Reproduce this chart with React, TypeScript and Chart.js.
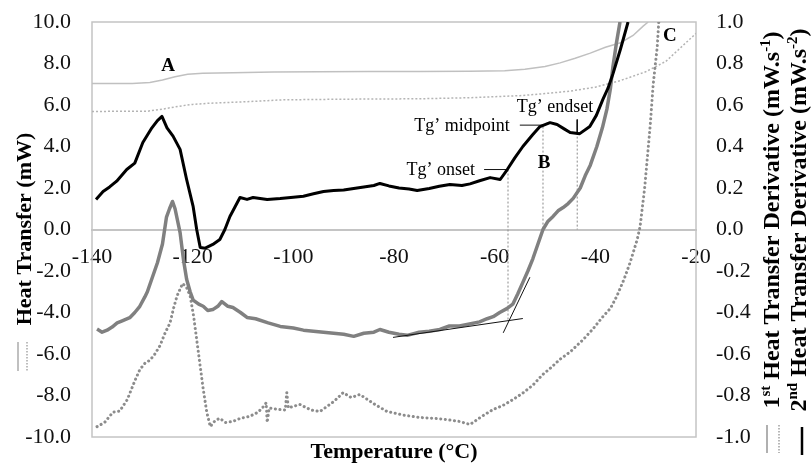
import React, { useEffect, useRef } from 'react';
import { Chart, registerables } from 'chart.js';

Chart.register(...registerables);

const FONT = "'Liberation Serif', 'Times New Roman', serif";

// ---- axis ticks ----
const xTicks = [-140, -120, -100, -80, -60, -40, -20];
const leftTicks = [-10, -8, -6, -4, -2, 0, 2, 4, 6, 8, 10];
const rightTicks = [-1, -0.8, -0.6, -0.4, -0.2, 0, 0.2, 0.4, 0.6, 0.8, 1];

// ---- Heat transfer (mW), left axis ----
const htSolidT = [-140, -132, -128.5, -126, -123.5, -121, -118, -112, -104, -95, -85, -75, -65, -58, -54, -50, -47, -44, -41, -38, -35, -32.5, -30.5, -29.5];
const htSolidV = [7.04, 7.04, 7.08, 7.2, 7.36, 7.48, 7.53, 7.56, 7.59, 7.6, 7.61, 7.62, 7.63, 7.65, 7.72, 7.86, 8.03, 8.25, 8.5, 8.78, 9.0, 9.35, 9.8, 10.0];

const htDotT = [-140, -129, -126, -123, -120, -117, -110, -102, -90, -75, -65, -55, -50, -45, -40, -35, -30, -26, -22, -20];
const htDotV = [5.69, 5.7, 5.8, 5.93, 6.03, 6.08, 6.15, 6.25, 6.28, 6.3, 6.35, 6.45, 6.55, 6.67, 6.86, 7.18, 7.6, 8.1, 9.0, 9.45];

// ---- 2nd heat transfer derivative (mW.s-2), right axis ----
const d2T = [-139.2, -137.8, -136.5, -135.1, -133.1, -131.5, -129.9, -128.1, -127, -126.1, -125.1, -123.9, -122.5, -121.2, -119.9, -119.2, -118.5, -117.5, -116, -114.6, -113.6, -112.6, -110.6, -109.2, -108, -105.2, -102.6, -100, -98, -96, -94, -92, -90, -88, -86, -84, -82.8, -81, -79, -77, -75.4, -73, -71, -68.9, -66.5, -64.9, -63, -60.9, -58.9, -57.5, -56, -54.4, -52.5, -51, -49, -47.6, -46.2, -45, -43.1, -41.1, -39.8, -38.5, -37.5, -36.5, -35, -33.5];
const d2V = [0.145, 0.183, 0.205, 0.233, 0.289, 0.32, 0.419, 0.49, 0.525, 0.545, 0.49, 0.45, 0.386, 0.241, 0.11, 0, -0.087, -0.09, -0.072, -0.048, 0, 0.063, 0.154, 0.145, 0.154, 0.145, 0.149, 0.155, 0.16, 0.172, 0.183, 0.188, 0.19, 0.198, 0.205, 0.212, 0.222, 0.21, 0.2, 0.195, 0.188, 0.198, 0.208, 0.217, 0.212, 0.22, 0.235, 0.25, 0.241, 0.289, 0.345, 0.4, 0.455, 0.496, 0.515, 0.506, 0.485, 0.467, 0.462, 0.496, 0.55, 0.627, 0.68, 0.75, 0.87, 1.0];

// ---- 1st heat transfer derivative (mW.s-1), right axis: solid ----
const d1SolidT = [-139, -138, -137, -136, -135, -134, -132.5, -131.5, -130.5, -129.5, -129, -128, -127, -126, -125.2, -124.6, -124, -123.5, -122.5, -121.8, -121.2, -120.5, -119.9, -118.8, -117.9, -117, -116, -115, -114.2, -113, -112, -110.5, -109.2, -107.5, -105, -102.6, -100, -98, -96, -94, -92, -90, -88, -86, -84, -82.8, -81, -79, -77.4, -75, -73, -70.9, -69, -67, -65.5, -63, -61.5, -60.3, -59, -57.5, -56.4, -55.4, -54.4, -53.4, -52.4, -51.4, -50.4, -49.4, -48.4, -47.4, -46.4, -45.4, -44.4, -43, -42, -41, -39.7, -38.6, -37.7, -37, -36.5, -35.8, -35.1];
const d1SolidV = [-0.48, -0.495, -0.485, -0.47, -0.45, -0.44, -0.425, -0.4, -0.37, -0.325, -0.3, -0.23, -0.16, -0.07, 0.06, 0.1, 0.135, 0.1, -0.015, -0.15, -0.24, -0.3, -0.34, -0.36, -0.37, -0.39, -0.386, -0.37, -0.347, -0.37, -0.376, -0.4, -0.424, -0.43, -0.45, -0.467, -0.475, -0.485, -0.49, -0.495, -0.5, -0.505, -0.515, -0.5, -0.495, -0.482, -0.495, -0.505, -0.51, -0.495, -0.49, -0.482, -0.465, -0.465, -0.458, -0.445, -0.43, -0.42, -0.4, -0.38, -0.36, -0.31, -0.255, -0.2, -0.14, -0.07, 0, 0.04, 0.063, 0.09, 0.106, 0.125, 0.15, 0.2, 0.26, 0.31, 0.4, 0.49, 0.58, 0.68, 0.786, 0.9, 1.0];

// ---- 1st heat transfer derivative (mW.s-1), right axis: dotted ----
const d1DotT = [-139, -137.5, -136.5, -135.8, -134.5, -133, -132, -131.5, -130.5, -129.5, -128.5, -127.5, -126.5, -125.5, -124.5, -123.8, -123.1, -122, -121.2, -120.5, -119.8, -119.2, -118.5, -117.9, -117.2, -116.5, -115.5, -114.6, -113.5, -112, -110.5, -108.6, -107, -105.8, -105.4, -105.2, -104.8, -103, -101.6, -101.3, -101, -98.7, -96.5, -94.7, -92, -90.1, -88.5, -86.8, -84, -81.4, -78, -74.8, -72, -69.5, -67, -64.9, -62.5, -60.3, -58.5, -56.4, -54.5, -52.4, -50.5, -49, -47, -45, -42.4, -40.5, -38.5, -37, -35.7, -34.3, -33.1, -31.7, -31.1, -30.2, -29.1, -28.5, -27.7, -27.4];
const d1DotV = [-0.95, -0.93, -0.9, -0.88, -0.875, -0.82, -0.76, -0.73, -0.675, -0.645, -0.63, -0.6, -0.56, -0.5, -0.45, -0.38, -0.32, -0.26, -0.28, -0.32, -0.42, -0.53, -0.66, -0.77, -0.88, -0.95, -0.92, -0.91, -0.93, -0.925, -0.91, -0.9, -0.88, -0.85, -0.835, -0.93, -0.86, -0.867, -0.87, -0.786, -0.86, -0.843, -0.87, -0.877, -0.83, -0.786, -0.81, -0.795, -0.84, -0.877, -0.895, -0.906, -0.91, -0.916, -0.925, -0.94, -0.9, -0.867, -0.85, -0.82, -0.79, -0.75, -0.7, -0.67, -0.625, -0.59, -0.53, -0.48, -0.42, -0.38, -0.32, -0.24, -0.16, -0.05, 0.015, 0.2, 0.5, 0.7, 0.88, 1.0];

// ---- construction lines (left axis units) ----
const tangentBaseT = [-80.2, -54.4];
const tangentBaseV = [-5.2, -4.29];
const tangentSteepT = [-58.3, -53.0];
const tangentSteepV = [-4.98, -2.3];
const onsetLeaderT = [-62.1, -57.35];
const onsetLeaderV = [2.89, 2.89];
const midLeaderT = [-55, -50.4];
const midLeaderV = [5.03, 5.03];
const endLeaderT = [-43.6, -43.6];
const endLeaderV = [5.3, 4.67];
const onsetGuideT = [-57.35, -57.35];
const onsetGuideV = [2.89, -4.34];
const midGuideT = [-50.4, -50.4];
const midGuideV = [4.96, 0];
const endGuideT = [-43.6, -43.6];
const endGuideV = [4.67, 0];

// ---- text annotations (left axis units) ----
const letterText = ['A', 'B', 'C'];
const letterT = [-124.9, -50.2, -25.2];
const letterV = [7.86, 3.18, 9.3];
const tgText = ['Tg\u2019 onset', 'Tg\u2019 midpoint', 'Tg\u2019 endset'];
const tgT = [-63.9, -57.0, -55.6];
const tgV = [2.84, 4.96, 5.88];
const tgAlign = ['right', 'right', 'left'];

const zip = (t: number[], v: number[]) => t.map((x, i) => ({ x, y: v[i] }));
const fmt1 = (v: number) => (Math.abs(v) < 1e-9 ? '0.0' : Number(v).toFixed(1));

type Part = [string, boolean];

function drawRotated(ctx: CanvasRenderingContext2D, bx: number, cy: number, parts: Part[], size: number) {
  ctx.save();
  ctx.translate(bx, cy);
  ctx.rotate(-Math.PI / 2);
  const main = `bold ${size}px ${FONT}`;
  const sup = `bold ${Math.round(size * 0.62)}px ${FONT}`;
  let total = 0;
  const widths = parts.map(([t, s]) => {
    ctx.font = s ? sup : main;
    const w = ctx.measureText(t).width;
    total += w;
    return w;
  });
  let x = -total / 2;
  ctx.textBaseline = 'alphabetic';
  ctx.textAlign = 'left';
  ctx.fillStyle = '#000';
  parts.forEach(([t, s], i) => {
    ctx.font = s ? sup : main;
    ctx.fillText(t, x, s ? -size * 0.38 : 0);
    x += widths[i];
  });
  ctx.restore();
}

function vline(ctx: CanvasRenderingContext2D, x: number, y0: number, y1: number, color: string, w: number, dash: number[]) {
  ctx.save();
  ctx.strokeStyle = color;
  ctx.lineWidth = w;
  ctx.setLineDash(dash);
  ctx.beginPath();
  ctx.moveTo(x, y0);
  ctx.lineTo(x, y1);
  ctx.stroke();
  ctx.restore();
}

const decoPlugin = {
  id: 'deco',
  beforeDatasetsDraw(chart: any) {
    const { ctx, chartArea } = chart;
    ctx.save();
    ctx.strokeStyle = '#c4c4c4';
    ctx.lineWidth = 1.5;
    ctx.strokeRect(chartArea.left, chartArea.top, chartArea.right - chartArea.left, chartArea.bottom - chartArea.top);
    ctx.restore();
  },
  afterDraw(chart: any) {
    const { ctx, chartArea } = chart;
    const xs = chart.scales.x;
    const ys = chart.scales.y;
    ctx.save();
    ctx.fillStyle = '#000';
    ctx.textAlign = 'center';
    ctx.textBaseline = 'middle';
    ctx.font = `bold 19px ${FONT}`;
    letterText.forEach((t, i) => {
      ctx.fillText(t, xs.getPixelForValue(letterT[i]), ys.getPixelForValue(letterV[i]));
    });
    ctx.font = `18px ${FONT}`;
    tgText.forEach((t, i) => {
      ctx.textAlign = tgAlign[i] as CanvasTextAlign;
      ctx.fillText(t, xs.getPixelForValue(tgT[i]), ys.getPixelForValue(tgV[i]));
    });
    ctx.textAlign = 'center';
    ctx.font = `bold 22px ${FONT}`;
    ctx.fillText('Temperature (\u00B0C)', (chartArea.left + chartArea.right) / 2, 452);
    ctx.restore();

    drawRotated(ctx, 31, 229, [['Heat Transfer (mW)', false]], 22);
    vline(ctx, 18, 342, 371, '#c0c0c0', 2, []);
    vline(ctx, 27, 342, 371, '#a8a8a8', 1.5, [1.5, 1.5]);

    drawRotated(ctx, 779, 220, [['1', false], ['st', true], [' Heat Transfer Derivative (mW.s', false], ['-1', true], [')', false]], 24);
    drawRotated(ctx, 806, 220, [['2', false], ['nd', true], [' Heat Transfer Derivative (mW.s', false], ['-2', true], [')', false]], 24);
    vline(ctx, 767, 425, 453, '#b0b0b0', 2, []);
    vline(ctx, 779, 425, 453, '#a0a0a0', 1.5, [1.5, 1.5]);
    vline(ctx, 802, 427, 455, '#000', 2.5, []);
  },
};

export default function App() {
  const ref = useRef<HTMLCanvasElement | null>(null);
  useEffect(() => {
    if (!ref.current) return;
    const thin = (t: number[], v: number[], color: string, w: number, dash: number[] = []) => ({
      data: zip(t, v),
      yAxisID: 'y',
      borderColor: color,
      borderWidth: w,
      borderDash: dash,
      pointRadius: 0,
      fill: false,
    });
    const chart = new Chart(ref.current, {
      type: 'line',
      data: {
        datasets: [
          {
            label: '2nd Heat Transfer Derivative',
            data: zip(d2T, d2V),
            yAxisID: 'y2',
            borderColor: '#000000',
            borderWidth: 3,
            pointRadius: 0,
            borderJoinStyle: 'round',
          },
          thin(tangentBaseT, tangentBaseV, '#111', 1),
          thin(tangentSteepT, tangentSteepV, '#111', 1),
          thin(onsetLeaderT, onsetLeaderV, '#111', 1),
          thin(midLeaderT, midLeaderV, '#111', 1),
          thin(endLeaderT, endLeaderV, '#111', 1),
          {
            label: '1st Heat Transfer Derivative',
            data: zip(d1SolidT, d1SolidV),
            yAxisID: 'y2',
            borderColor: '#808080',
            borderWidth: 3.5,
            pointRadius: 0,
            borderJoinStyle: 'round',
          },
          {
            label: '1st Heat Transfer Derivative (dotted)',
            data: zip(d1DotT, d1DotV),
            yAxisID: 'y2',
            borderColor: '#8c8c8c',
            borderWidth: 3,
            borderDash: [0.1, 4.5],
            borderCapStyle: 'round',
            pointRadius: 0,
          },
          thin(onsetGuideT, onsetGuideV, '#8a8a8a', 1, [2, 2]),
          thin(midGuideT, midGuideV, '#8a8a8a', 1, [2, 2]),
          thin(endGuideT, endGuideV, '#8a8a8a', 1, [2, 2]),
          {
            label: 'Heat Transfer',
            data: zip(htSolidT, htSolidV),
            yAxisID: 'y',
            borderColor: '#c0c0c0',
            borderWidth: 1.5,
            pointRadius: 0,
          },
          {
            label: 'Heat Transfer (dotted)',
            data: zip(htDotT, htDotV),
            yAxisID: 'y',
            borderColor: '#b4b4b4',
            borderWidth: 1.5,
            borderDash: [2, 2],
            pointRadius: 0,
          },
        ] as any,
      },
      options: {
        responsive: false,
        animation: false,
        layout: { padding: { top: 22, bottom: 29, left: 0, right: 0 } },
        plugins: { legend: { display: false }, tooltip: { enabled: false } },
        elements: { line: { tension: 0 }, point: { radius: 0 } },
        scales: {
          x: {
            type: 'linear',
            min: -140,
            max: -20,
            position: { y: 0 } as any,
            grid: { display: false, drawTicks: false },
            border: { display: true, color: '#c4c4c4', width: 2 },
            afterBuildTicks: (s: any) => { s.ticks = xTicks.map((value) => ({ value })); },
            afterFit: (s: any) => { s.paddingLeft = 0; s.paddingRight = 0; },
            ticks: {
              font: { family: FONT, size: 22 },
              color: '#111',
              padding: 15,
              maxRotation: 0,
              autoSkip: false,
              callback: (v: any) => String(v),
            },
          },
          y: {
            type: 'linear',
            position: 'left',
            min: -10,
            max: 10,
            grid: { display: false, drawTicks: false },
            border: { display: false },
            afterBuildTicks: (s: any) => { s.ticks = leftTicks.map((value) => ({ value })); },
            afterFit: (s: any) => { s.width = 92; s.paddingTop = 0; s.paddingBottom = 0; },
            ticks: {
              font: { family: FONT, size: 22 },
              color: '#111',
              padding: 21,
              autoSkip: false,
              callback: (v: any) => fmt1(Number(v)),
            },
          },
          y2: {
            type: 'linear',
            position: 'right',
            min: -1,
            max: 1,
            grid: { display: false, drawTicks: false },
            border: { display: false },
            afterBuildTicks: (s: any) => { s.ticks = rightTicks.map((value) => ({ value })); },
            afterFit: (s: any) => { s.width = 116; s.paddingTop = 0; s.paddingBottom = 0; },
            ticks: {
              font: { family: FONT, size: 22 },
              color: '#111',
              padding: 20,
              autoSkip: false,
              callback: (v: any) => fmt1(Number(v)),
            },
          },
        },
      } as any,
      plugins: [decoPlugin],
    });
    return () => chart.destroy();
  }, []);

  return (
    <div style={{ position: 'fixed', left: 0, top: 0, width: 812, height: 466, background: '#fff' }}>
      <canvas ref={ref} width={812} height={466} style={{ display: 'block' }} />
    </div>
  );
}
